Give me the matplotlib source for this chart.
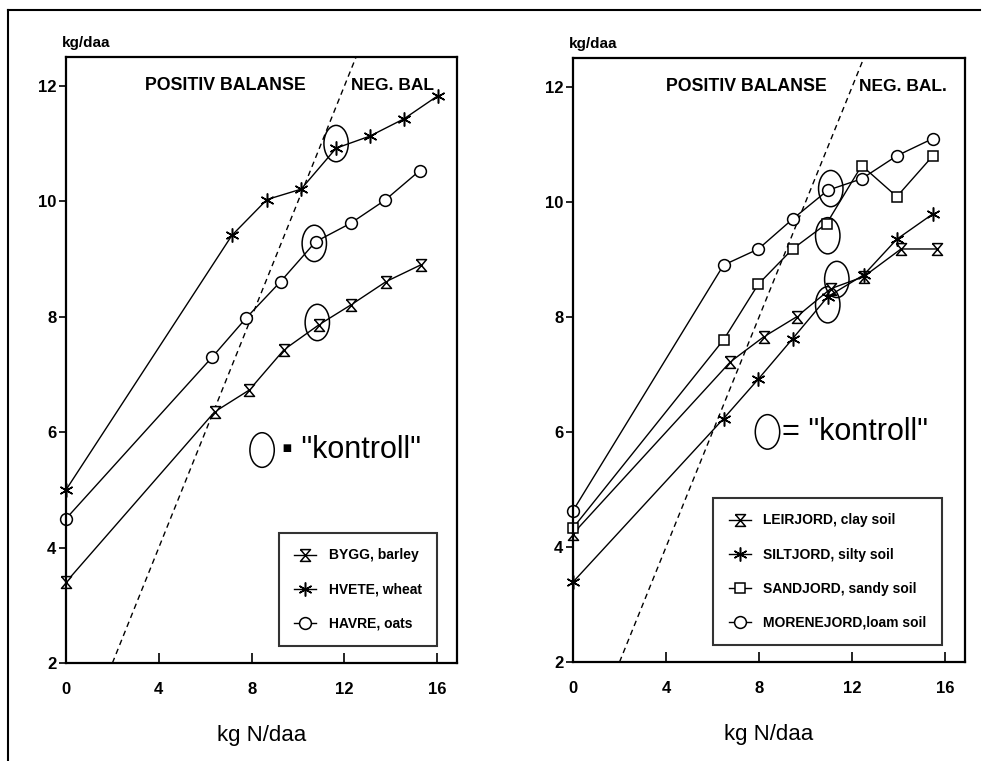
import matplotlib
matplotlib.use("Agg")
import matplotlib.pyplot as plt
from matplotlib.path import Path
from matplotlib.patches import Ellipse
from matplotlib.lines import Line2D

plt.rcParams['font.family'] = ['Liberation Sans Narrow', 'Liberation Sans', 'DejaVu Sans']

# ---------------- data ----------------
# Left panel: grain types
bygg_x = [0, 6.4, 7.9, 9.4, 10.9, 12.3, 13.8, 15.3]
bygg_y = [3.4, 6.35, 6.73, 7.43, 7.86, 8.21, 8.61, 8.9]
hvete_x = [0, 7.15, 8.66, 10.13, 11.64, 13.1, 14.57, 16.03]
hvete_y = [5.0, 9.41, 10.03, 10.21, 10.92, 11.13, 11.43, 11.83]
havre_x = [0, 6.3, 7.77, 9.25, 10.76, 12.27, 13.75, 15.24]
havre_y = [4.5, 7.3, 7.98, 8.61, 9.3, 9.62, 10.02, 10.53]
left_kontroll_x = [11.64, 10.7, 10.83]
left_kontroll_y = [11.0, 9.27, 7.9]

# Right panel: soil types
leir_x = [0, 6.77, 8.19, 9.61, 11.08, 12.5, 14.1, 15.65]
leir_y = [4.23, 7.22, 7.65, 8.0, 8.49, 8.7, 9.18, 9.18]
silt_x = [0, 6.47, 7.97, 9.44, 10.95, 12.5, 13.92, 15.47]
silt_y = [3.39, 6.23, 6.92, 7.62, 8.35, 8.73, 9.35, 9.79]
sand_x = [0, 6.47, 7.97, 9.44, 10.9, 12.41, 13.92, 15.47]
sand_y = [4.33, 7.6, 8.57, 9.18, 9.62, 10.63, 10.09, 10.8]
morene_x = [0, 6.47, 7.97, 9.44, 10.95, 12.41, 13.92, 15.47]
morene_y = [4.63, 8.9, 9.18, 9.7, 10.2, 10.4, 10.8, 11.1]
right_kontroll_x = [11.08, 10.95, 11.34, 10.95]
right_kontroll_y = [10.23, 9.41, 8.65, 8.21]

# N-balance line (yield N = applied N)
balance_x = [2, 12.5]
balance_y = [2, 12.5]

xticks = [0, 4, 8, 12, 16]
yticks = [2, 4, 6, 8, 10, 12]
left_labels = ["BYGG, barley", "HVETE, wheat", "HAVRE, oats"]
right_labels = ["LEIRJORD, clay soil", "SILTJORD, silty soil",
                "SANDJORD, sandy soil", "MORENEJORD,loam soil"]

# ---------------- markers ----------------
hourglass = Path([(-0.85, 1), (0.85, 1), (-0.85, -1), (0.85, -1), (-0.85, 1)],
                 [Path.MOVETO, Path.LINETO, Path.LINETO, Path.LINETO, Path.LINETO])
asterisk = (6, 2, 0)

fig = plt.figure(figsize=(9.91, 7.61), dpi=100)

# outer frame lines
fig.add_artist(Line2D([8/991, 980/991], [1 - 10/761, 1 - 10/761], color='black', lw=1.5,
                      transform=fig.transFigure))
fig.add_artist(Line2D([8/991, 8/991], [1 - 10/761, 0], color='black', lw=1.5,
                      transform=fig.transFigure))

axL = fig.add_axes([66/991, 98/761, 391/991, 606/761])
axR = fig.add_axes([573/991, 99/761, 392/991, 604/761])

def style_axes(ax):
    ax.set_xlim(0, 16.85)
    ax.set_ylim(2, 12.5)
    ax.set_xticks(xticks)
    ax.set_yticks(yticks)
    ax.tick_params(axis='x', direction='in', length=7, width=1.2, pad=14, labelsize=12)
    ax.tick_params(axis='y', direction='out', length=5, width=1.2, pad=2, labelsize=12)
    for lab in ax.get_xticklabels() + ax.get_yticklabels():
        lab.set_fontweight('bold')
    for s in ax.spines.values():
        s.set_linewidth(1.6)
    ax.set_xlabel("kg N/daa", fontsize=16, labelpad=20)
    ax.text(-0.01, 1.012, "kg/daa", transform=ax.transAxes, fontsize=11,
            fontweight='bold', ha='left', va='bottom')
    ax.plot(balance_x, balance_y, color='black', lw=1.0, ls=(0, (4, 3)))

def series(ax, x, y, marker, label, ms=9):
    ax.plot(x, y, color='black', lw=1.0, marker=marker, ms=ms, mfc='white',
            mec='black', mew=1.1, label=label, clip_on=False)

def kontroll(ax, xs, ys):
    for cx, cy in zip(xs, ys):
        ax.add_patch(Ellipse((cx, cy), 1.05, 0.63, fill=False, ec='black', lw=1.1))

def legend(ax, anchor):
    leg = ax.legend(loc='lower right', bbox_to_anchor=anchor, borderaxespad=0,
                    frameon=True, fancybox=False, edgecolor='black',
                    prop={'weight': 'bold', 'size': 10},
                    handlelength=1.6, labelspacing=1.45, borderpad=1.1,
                    handletextpad=0.9)
    leg.get_frame().set_linewidth(1.5)
    return leg

# left
style_axes(axL)
series(axL, bygg_x, bygg_y, hourglass, left_labels[0], ms=8.5)
series(axL, hvete_x, hvete_y, asterisk, left_labels[1], ms=10)
series(axL, havre_x, havre_y, 'o', left_labels[2], ms=8.5)
kontroll(axL, left_kontroll_x, left_kontroll_y)
axL.text(3.4, 12.0, "POSITIV BALANSE", fontsize=12.8, fontweight='bold', va='center')
axL.text(12.3, 12.0, "NEG. BAL", fontsize=12.5, fontweight='bold', va='center')
axL.add_patch(Ellipse((8.45, 5.69), 1.05, 0.6, fill=False, ec='black', lw=1.1))
axL.text(9.3, 5.69, "\u25aa \"kontroll\"", fontsize=22, va='center')
legend(axL, (0.949, 0.028))

# right
style_axes(axR)
series(axR, leir_x, leir_y, hourglass, right_labels[0], ms=8.5)
series(axR, silt_x, silt_y, asterisk, right_labels[1], ms=10)
series(axR, sand_x, sand_y, 's', right_labels[2], ms=7.5)
series(axR, morene_x, morene_y, 'o', right_labels[3], ms=8.5)
kontroll(axR, right_kontroll_x, right_kontroll_y)
axR.text(4.0, 12.0, "POSITIV BALANSE", fontsize=12.8, fontweight='bold', va='center')
axR.text(12.3, 12.0, "NEG. BAL.", fontsize=12.5, fontweight='bold', va='center')
axR.add_patch(Ellipse((8.36, 6.0), 1.05, 0.6, fill=False, ec='black', lw=1.1))
axR.text(9.0, 6.0, "= \"kontroll\"", fontsize=22, va='center')
legend(axR, (0.941, 0.028))

fig.savefig("out.png", dpi=100)
